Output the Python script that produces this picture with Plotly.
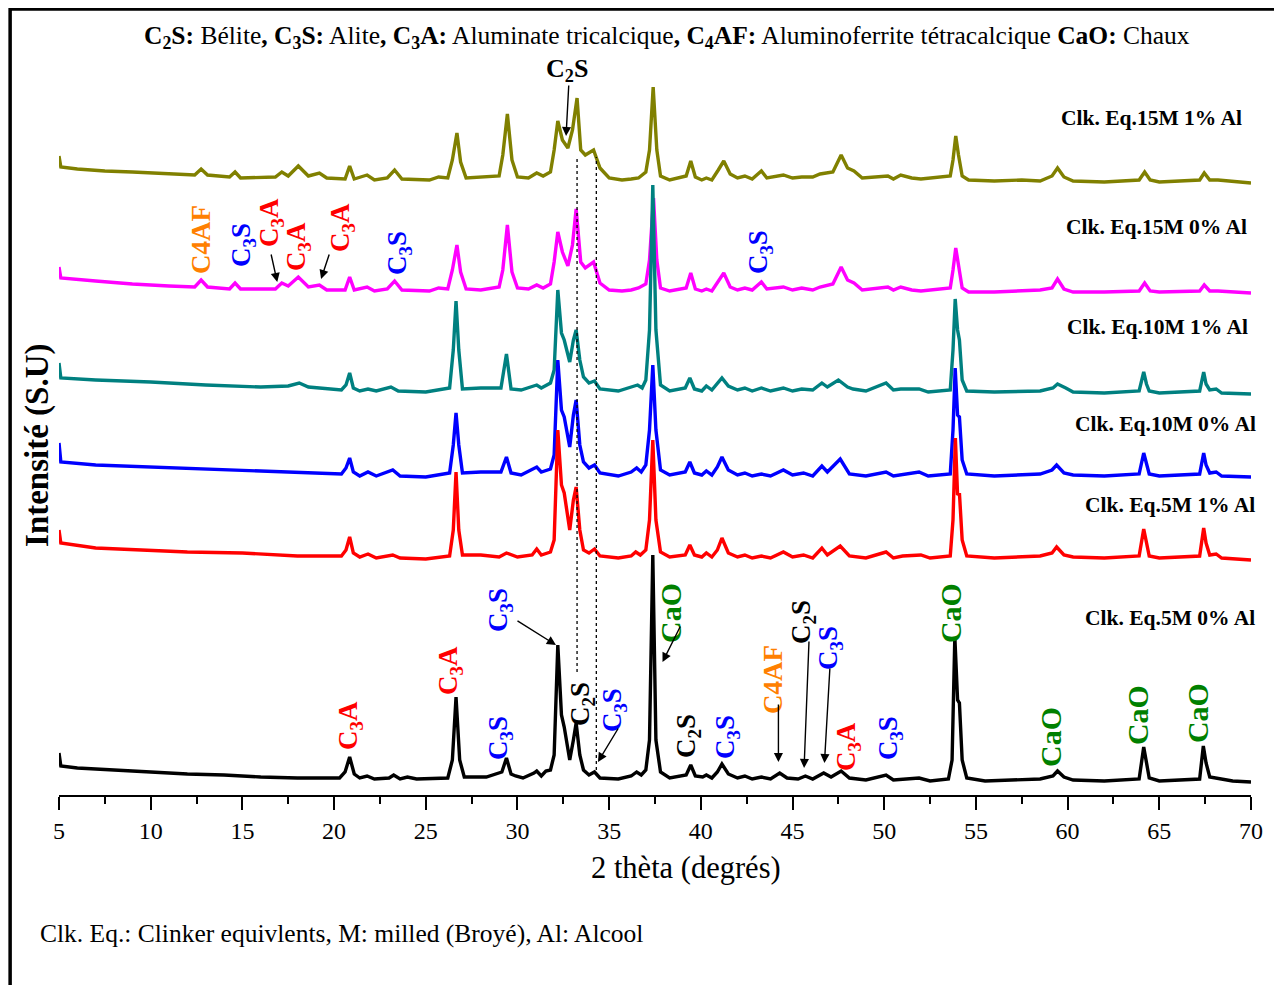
import plotly.graph_objects as go

# ---------------- data (2-theta in degrees, intensity in arbitrary units) ----------------
series_names = ["Clk. Eq.15M 1% Al", "Clk. Eq.15M 0% Al", "Clk. Eq.10M 1% Al",
                "Clk. Eq.10M 0% Al", "Clk. Eq.5M 1% Al", "Clk. Eq.5M 0% Al"]
offsets = [612, 502, 401, 318, 236, 13]

theta_15M_1 = [5.0, 5.1, 6, 7.5, 9, 10, 11.5, 12.4, 12.75, 13.1, 14.3, 14.6, 14.9, 16.8, 17.15, 17.5,
               18.05, 18.6, 19.2, 19.6, 20.6, 20.85, 21.1, 21.8, 22.2, 22.9, 23.3, 23.7, 25.2, 25.7,
               26.2, 26.45, 26.7, 26.9, 27.2, 28.0, 29.0, 29.2, 29.45, 29.7, 30.0, 30.6, 31.05, 31.4,
               31.8, 32.0, 32.2, 32.45, 32.75, 33.0, 33.25, 33.45, 33.7, 34.15, 34.5, 35.0, 35.7,
               36.2, 36.6, 37.0, 37.2, 37.4, 37.6, 37.8, 38.3, 39.2, 39.45, 39.7, 40.05, 40.3, 40.6,
               40.95, 41.25, 41.6, 42.0, 42.4, 42.8, 43.3, 43.6, 44.5, 45.0, 45.5, 46.1, 46.5, 47.2,
               47.65, 48.0, 48.35, 48.8, 50.2, 50.5, 50.9, 51.5, 52.0, 53.6, 53.75, 53.9, 54.05,
               54.25, 54.6, 56, 57.5, 58.5, 59.15, 59.45, 59.8, 60.3, 62, 63.9, 64.2, 64.5, 65, 67.2,
               67.45, 67.75, 68.2, 70]
int_15M_1 = [27, 16, 14, 12, 11, 10, 9, 8, 14, 8, 6, 11, 5, 6, 11, 7,
             17, 7, 10, 5, 4, 17, 4, 8, 3, 5, 13, 4, 3, 6,
             5, 23, 50, 21, 5, 6, 7, 28, 69, 23, 6, 5, 10, 7,
             11, 33, 62, 43, 35, 53, 85, 33, 28, 33, 15, 5, 3,
             4, 5, 11, 33, 96, 33, 7, 3, 7, 22, 6, 3, 5, 3,
             13, 22, 9, 5, 7, 4, 12, 5, 8, 5, 6, 6, 9, 11,
             28, 15, 12, 5, 7, 4, 8, 5, 4, 7, 23, 47, 28,
             7, 3, 2, 3, 2, 7, 15, 6, 2, 1, 3, 11, 3, 1, 3,
             10, 3, 3, 0]

theta_15M_0 = [5.0, 5.1, 7, 9, 11, 12.4, 12.75, 13.1, 14.3, 14.6, 14.9, 16.8, 17.15, 17.5, 18.05,
               18.6, 19.2, 19.6, 20.6, 20.85, 21.1, 21.8, 22.2, 22.9, 23.3, 23.7, 25.2, 25.7, 26.2,
               26.45, 26.7, 26.9, 27.2, 28.0, 29.0, 29.2, 29.45, 29.7, 30.0, 30.6, 31.05, 31.4, 31.8,
               32.0, 32.2, 32.45, 32.75, 33.0, 33.2, 33.45, 33.7, 34.15, 34.5, 35.0, 35.7, 36.2,
               36.6, 37.0, 37.2, 37.42, 37.6, 37.8, 38.3, 39.2, 39.45, 39.7, 40.05, 40.3, 40.6,
               40.95, 41.25, 41.6, 42.0, 42.4, 42.8, 43.3, 43.6, 44.5, 45.0, 45.5, 46.1, 46.5, 47.2,
               47.65, 48.0, 48.35, 48.8, 50.2, 50.5, 50.9, 51.5, 52.0, 53.6, 53.75, 53.9, 54.05,
               54.25, 54.6, 56, 58.5, 59.15, 59.45, 59.8, 60.3, 62, 63.9, 64.2, 64.5, 65, 67.2,
               67.45, 67.75, 68.2, 70]
int_15M_0 = [26, 15, 12, 9, 7, 6, 13, 6, 4, 10, 4, 4, 10, 7, 16,
             6, 8, 3, 3, 16, 3, 6, 2, 4, 12, 3, 2, 5, 4,
             23, 48, 21, 4, 3, 6, 23, 68, 21, 5, 4, 8, 5, 9,
             31, 61, 41, 27, 48, 84, 31, 25, 31, 10, 3, 2, 3,
             5, 9, 33, 95, 33, 5, 2, 5, 20, 4, 2, 4, 2,
             11, 20, 6, 3, 5, 3, 11, 4, 6, 3, 5, 3, 6, 9,
             26, 13, 10, 3, 6, 3, 6, 3, 2, 5, 23, 45, 28,
             5, 1, 1, 3, 5, 14, 4, 1, 1, 2, 10, 2, 1, 2,
             8, 2, 2, 0]

theta_10M_1 = [5.0, 5.1, 7, 10, 13, 16, 17.5, 18.1, 18.6, 20.4, 20.65, 20.85, 21.05, 21.4, 21.85,
               22.3, 23.1, 23.5, 25, 26.3, 26.5, 26.65, 26.8, 27.0, 28.0, 29.1, 29.4, 29.65, 30.2,
               30.8, 31.05, 31.3, 31.8, 32.0, 32.2, 32.4, 32.55, 32.85, 33.05, 33.2, 33.4, 33.6,
               33.9, 34.2, 34.5, 35.5, 36.2, 36.55, 36.8, 37.0, 37.2, 37.38, 37.55, 37.8, 38.3,
               39.15, 39.4, 39.65, 40.05, 40.3, 40.6, 40.9, 41.15, 41.5, 42.0, 42.4, 42.8, 43.3,
               43.8, 44.5, 45.0, 45.5, 46.1, 46.6, 46.9, 47.5, 48.0, 48.3, 49.0, 50.1, 50.5, 50.9,
               51.9, 52.4, 53.6, 53.75, 53.87, 54.0, 54.1, 54.25, 54.5, 56, 58.5, 59.2, 59.45, 59.9,
               60.3, 62, 63.9, 64.15, 64.3, 64.45, 65, 67.2, 67.42, 67.55, 67.75, 68.1, 68.4, 70]
int_10M_1 = [31, 16, 14, 12, 9, 7, 8, 11, 7, 4, 9, 21, 6, 3, 5,
             3, 7, 3, 2, 6, 44, 93, 44, 5, 6, 6, 40, 5, 4,
             7, 9, 6, 11, 24, 104, 61, 54, 32, 54, 64, 34, 17,
             11, 13, 5, 3, 7, 9, 6, 14, 64, 209, 64, 9, 3,
             6, 16, 5, 3, 8, 4, 10, 16, 8, 4, 6, 3, 6,
             3, 6, 3, 5, 4, 11, 7, 14, 7, 5, 3, 11, 4, 5,
             5, 2, 4, 44, 95, 64, 54, 14, 3, 2, 3, 6, 10, 6,
             2, 1, 3, 22, 10, 3, 1, 3, 22, 10, 4, 5, 1, 0]

theta_10M_0 = [5.0, 5.1, 7, 10, 13, 16, 18, 20.4, 20.65, 20.85, 21.05, 21.4, 21.85, 22.3, 23.2,
               23.6, 25, 26.3, 26.5, 26.65, 26.8, 27.0, 28.0, 29.1, 29.4, 29.65, 30.2, 30.8, 31.05,
               31.3, 31.8, 32.0, 32.2, 32.4, 32.55, 32.85, 33.05, 33.2, 33.4, 33.6, 33.9, 34.2, 34.5,
               35.5, 36.2, 36.5, 36.75, 37.0, 37.2, 37.38, 37.55, 37.8, 38.3, 39.15, 39.4, 39.65,
               40.05, 40.3, 40.6, 40.9, 41.15, 41.5, 42.0, 42.4, 42.8, 43.3, 43.8, 44.5, 45.0, 45.6,
               46.1, 46.6, 46.9, 47.6, 48.1, 49.0, 50.1, 50.5, 51.9, 52.4, 53.6, 53.75, 53.87, 54.0,
               54.1, 54.25, 54.5, 56, 58.5, 59.15, 59.4, 59.8, 60.3, 62, 63.9, 64.15, 64.3, 64.45,
               65, 67.2, 67.42, 67.55, 67.75, 68.1, 68.4, 70]
int_10M_0 = [34, 15, 12, 10, 8, 6, 5, 3, 9, 19, 5, 1, 5, 1, 7,
             1, 0, 4, 32, 64, 32, 4, 5, 5, 20, 4, 2, 7, 10,
             5, 8, 22, 117, 67, 60, 30, 62, 77, 32, 15, 9, 12, 4,
             1, 5, 9, 5, 12, 47, 112, 47, 7, 2, 5, 15, 4,
             2, 6, 2, 10, 20, 7, 2, 4, 1, 3, 1, 7, 2, 4,
             1, 11, 5, 18, 3, 1, 5, 1, 5, 1, 3, 47, 109, 62,
             60, 17, 3, 1, 3, 7, 12, 4, 2, 1, 3, 24, 12, 3,
             1, 3, 24, 12, 4, 5, 1, 0]

theta_5M_1 = [5.0, 5.1, 7, 10, 12, 15, 18, 20.4, 20.65, 20.85, 21.05, 21.4, 21.85, 22.3, 23.2,
              23.6, 25, 26.3, 26.5, 26.65, 26.8, 27.0, 28.0, 29.0, 29.4, 30, 30.8, 31.05, 31.3,
              31.8, 32.0, 32.2, 32.4, 32.55, 32.85, 33.05, 33.2, 33.4, 33.6, 33.9, 34.2, 34.5, 35.5,
              36.2, 36.45, 36.7, 37.0, 37.2, 37.38, 37.55, 37.8, 38.3, 39.15, 39.4, 39.65, 40.05,
              40.3, 40.6, 40.9, 41.15, 41.5, 42.0, 42.4, 42.8, 43.3, 43.8, 44.5, 45.0, 45.6, 46.1,
              46.6, 46.9, 47.6, 48.1, 49.0, 50.1, 50.5, 51.0, 52.0, 52.5, 53.6, 53.75, 53.88, 54.0,
              54.1, 54.25, 54.5, 56, 58.5, 59.15, 59.4, 59.8, 60.3, 62, 63.9, 64.15, 64.3, 64.45,
              65, 67.2, 67.42, 67.55, 67.75, 68.1, 68.4, 70]
int_5M_1 = [29, 16, 11, 9, 7, 6, 3, 3, 9, 22, 6, 2, 5, 1, 4,
            1, 0, 3, 29, 87, 29, 4, 4, 2, 6, 2, 4, 10, 4,
            7, 19, 129, 74, 66, 29, 59, 72, 29, 9, 6, 10, 3, 1,
            3, 7, 4, 9, 39, 119, 39, 7, 2, 4, 14, 4, 2,
            6, 2, 9, 21, 6, 2, 4, 1, 3, 1, 7, 2, 4, 1,
            11, 4, 13, 3, 1, 7, 1, 3, 4, 1, 3, 39, 121, 64,
            66, 19, 3, 1, 3, 6, 12, 4, 2, 1, 3, 30, 16, 3,
            1, 3, 31, 16, 4, 5, 1, -1]

theta_5M_0 = [5.0, 5.1, 6, 8, 10, 12, 14, 16, 18, 20.3, 20.6, 20.85, 21.1, 21.4, 21.8, 22.2,
              23.0, 23.25, 23.6, 24.0, 24.5, 26.2, 26.45, 26.65, 26.85, 27.1, 28.3, 29.15, 29.4,
              29.65, 29.9, 30.3, 30.9, 31.05, 31.3, 31.55, 31.8, 32.0, 32.2, 32.4, 32.55, 32.85,
              33.05, 33.2, 33.4, 33.6, 33.9, 34.2, 34.5, 35.5, 36.2, 36.5, 36.75, 37.0, 37.2, 37.38,
              37.55, 37.8, 38.3, 39.2, 39.45, 39.7, 40.1, 40.3, 40.6, 40.9, 41.15, 41.5, 42.0, 42.4,
              42.8, 43.3, 43.8, 44.3, 44.7, 45.3, 45.7, 46.1, 46.7, 47.1, 47.65, 48.1, 49.0, 50.1,
              50.5, 51.9, 52.5, 53.5, 53.7, 53.85, 54.0, 54.1, 54.25, 54.5, 55.5, 57, 58.5, 59.2,
              59.45, 59.8, 60.3, 62, 63.9, 64.15, 64.3, 64.45, 65, 67.2, 67.4, 67.55, 67.75, 68.1,
              69, 70]
int_5M_0 = [29, 16, 14, 12, 10, 8, 7, 5, 4, 4, 10, 25, 8, 4, 6, 3,
            4, 7, 3, 5, 3, 4, 22, 85, 22, 5, 5, 10, 24,
            8, 6, 4, 9, 11, 6, 11, 12, 27, 137, 67, 55, 22,
            42, 59, 27, 12, 7, 10, 4, 3, 6, 10, 7, 12, 42, 227,
            42, 10, 4, 7, 17, 6, 5, 7, 4, 10, 18, 8, 4, 6,
            3, 5, 3, 9, 4, 3, 6, 3, 9, 5, 11, 4, 2, 7,
            2, 4, 1, 3, 22, 145, 82, 79, 22, 4, 1, 2, 3, 6,
            11, 5, 2, 1, 3, 35, 19, 4, 1, 3, 36, 19, 5, 4,
            1, 0]

thetas = [theta_15M_1, theta_15M_0, theta_10M_1, theta_10M_0, theta_5M_1, theta_5M_0]
intensities = [int_15M_1, int_15M_0, int_10M_1, int_10M_0, int_5M_1, int_5M_0]
colors = ["#808000", "#FF00FF", "#008080", "#0000FF", "#FF0000", "#000000"]

x_ticks = [5, 10, 15, 20, 25, 30, 35, 40, 45, 50, 55, 60, 65, 70]

# phase labels: (text, colour, 2theta, level)
phase_labels = [
    ("C4AF", "#FF8000", 12.74, 556), ("C<sub>3</sub>S", "#0000FF", 15.03, 550),
    ("C<sub>3</sub>A", "#FF0000", 16.56, 573), ("C<sub>3</sub>A", "#FF0000", 18.03, 549),
    ("C<sub>3</sub>A", "#FF0000", 20.43, 568), ("C<sub>3</sub>S", "#0000FF", 23.54, 542),
    ("C<sub>3</sub>S", "#0000FF", 43.23, 543),
    ("C<sub>3</sub>A", "#FF0000", 20.87, 69), ("C<sub>3</sub>A", "#FF0000", 26.32, 125),
    ("C<sub>3</sub>S", "#0000FF", 29.05, 57), ("C<sub>3</sub>S", "#0000FF", 29.05, 185),
    ("C<sub>2</sub>S", "#000000", 33.52, 91), ("C<sub>3</sub>S", "#0000FF", 35.27, 85),
    ("CaO", "#008000", 38.32, 182), ("C<sub>2</sub>S", "#000000", 39.30, 59),
    ("C<sub>3</sub>S", "#0000FF", 41.43, 58), ("C4AF", "#FF8000", 43.94, 115),
    ("C<sub>2</sub>S", "#000000", 45.57, 173), ("C<sub>3</sub>S", "#0000FF", 47.04, 147),
    ("C<sub>3</sub>A", "#FF0000", 48.03, 48), ("C<sub>3</sub>S", "#0000FF", 50.32, 57),
    ("CaO", "#008000", 53.59, 182), ("CaO", "#008000", 59.04, 58),
    ("CaO", "#008000", 63.79, 80), ("CaO", "#008000", 67.06, 82),
]
# arrows: (tail 2theta, tail level, head 2theta, head level)
arrows = [
    (32.8, 711, 32.65, 659), (16.55, 542, 16.9, 513), (19.76, 542, 19.29, 516),
    (29.92, 175, 32.1, 150), (35.54, 68, 34.39, 33), (38.92, 170, 37.91, 133),
    (44.23, 92, 44.23, 33), (45.9, 155, 45.63, 27), (47.04, 128, 46.74, 32),
]
# dotted reference lines: (2theta, from level, to level)
ref_lines = [(33.25, 123, 638), (34.3, 25, 638)]

# series label placement (2theta of right edge, level)
series_label_pos = [(69.62, 677), (69.89, 568), (69.95, 468), (70.38, 371), (70.33, 290), (70.33, 177)]

FONT = "Liberation Serif"

fig = go.Figure()
for name, th, it, off, col in zip(series_names, thetas, intensities, offsets, colors):
    fig.add_trace(go.Scatter(x=th, y=[v + off for v in it], mode="lines", name=name,
                             line=dict(color=col, width=3.4), showlegend=False))

ann = []
for txt, col, tx, ty in phase_labels:
    size = 30 if txt == "CaO" else 27
    ann.append(dict(x=tx, y=ty, xref="x", yref="y", text="<b>" + txt + "</b>", showarrow=False,
                    textangle=-90, xanchor="center", yanchor="middle",
                    font=dict(family=FONT, size=size, color=col)))
for x0, y0, x1, y1 in arrows:
    ann.append(dict(x=x1, y=y1, ax=x0, ay=y0, xref="x", yref="y", axref="x", ayref="y",
                    text="", showarrow=True, arrowhead=2, arrowsize=1.3, arrowwidth=1.4,
                    arrowcolor="black"))
ann.append(dict(x=32.70, y=725, xref="x", yref="y", text="<b>C<sub>2</sub>S</b>", showarrow=False,
                font=dict(family=FONT, size=26, color="black")))

X0, XW = 5, 65
for name, (px, py) in zip(series_names, series_label_pos):
    ann.append(dict(x=(px - X0) / XW, y=py, xref="paper", yref="y", text="<b>" + name + "</b>",
                    showarrow=False, xanchor="right", yanchor="middle",
                    font=dict(family=FONT, size=21.5, color="black")))

title_txt = ("<b>C<sub>2</sub>S:</b> Bélite<b>,</b> <b>C<sub>3</sub>S:</b> Alite<b>,</b> "
             "<b>C<sub>3</sub>A:</b> Aluminate tricalcique<b>,</b> <b>C<sub>4</sub>AF:</b> "
             "Aluminoferrite tétracalcique <b>CaO:</b> Chaux")
ann.append(dict(x=0.510, y=0.9718, xref="paper", yref="paper", text=title_txt, showarrow=False,
                xanchor="center", yanchor="middle", font=dict(family=FONT, size=25.5, color="black")))
ann.append(dict(x=0.526, y=-0.0936, xref="paper", yref="paper", text="2 thèta (degrés)",
                showarrow=False, xanchor="center", yanchor="middle",
                font=dict(family=FONT, size=30.5, color="black")))
ann.append(dict(x=-0.0185, y=0.4487, xref="paper", yref="paper", text="<b>Intensité (S.U)</b>",
                showarrow=False, textangle=-90, xanchor="center", yanchor="middle",
                font=dict(family=FONT, size=33, color="black")))
ann.append(dict(x=-0.0176, y=-0.177, xref="paper", yref="paper",
                text="Clk. Eq.: Clinker equivlents, M: milled (Broyé), Al: Alcool",
                showarrow=False, xanchor="left", yanchor="middle",
                font=dict(family=FONT, size=25.5, color="black")))

shapes = []
for xv, y0, y1 in ref_lines:
    shapes.append(dict(type="line", xref="x", yref="y", x0=xv, x1=xv, y0=y0, y1=y1,
                       line=dict(color="black", width=1.3, dash="dot")))
shapes.append(dict(type="rect", xref="paper", yref="paper", x0=-0.0410, x1=1.0218,
                   y0=-0.26, y1=1.0077, line=dict(color="black", width=3.5)))

# the page body adds an 8px margin, so the figure is sized/margined to land the plot area
fig.update_layout(
    width=1274, height=977,
    margin=dict(l=51, r=31, t=7, b=190),
    paper_bgcolor="white", plot_bgcolor="white",
    annotations=ann, shapes=shapes,
    xaxis=dict(range=[5, 70], tickvals=x_ticks, ticks="outside", ticklen=13, tickwidth=2,
               tickcolor="black", showline=True, linewidth=2, linecolor="black",
               showgrid=False, zeroline=False,
               tickfont=dict(family=FONT, size=24, color="black"),
               minor=dict(dtick=2.5, tick0=5, ticks="outside", ticklen=7, tickwidth=2,
                          tickcolor="black", showgrid=False)),
    yaxis=dict(range=[0, 780], showticklabels=False, showline=False, showgrid=False,
               zeroline=False, ticks=""),
)

fig.write_html("out.html")
